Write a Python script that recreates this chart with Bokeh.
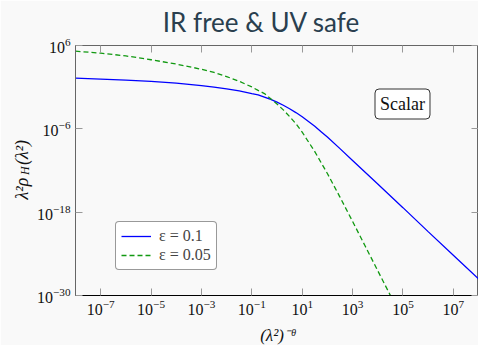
import math
from bokeh.plotting import figure
from bokeh.models import (LogAxis, FixedTicker, Legend, LegendItem, Label, Range1d,
                          CustomJSTickFormatter)
from bokeh.embed import file_html
from bokeh.resources import INLINE

# ---------------- data (log10 values) ----------------
title_text = "IR free & UV safe"

blue_log_x = [-8, -7, -6, -5, -4, -3, -2.5, -2, -1.5, -1, -0.75, -0.5, -0.25, 0, 0.25, 0.5,
              0.75, 1, 1.25, 1.5, 1.75, 2, 2.5, 3, 4, 5, 6, 7, 8]
blue_log_y = [1.30, 1.16, 1.00, 0.82, 0.58, 0.23, 0.01, -0.24, -0.54, -0.93, -1.11, -1.42,
              -1.76, -2.16, -2.61, -3.11, -3.66, -4.27, -4.94, -5.64, -6.41, -7.19, -8.85,
              -10.55, -13.95, -17.35, -20.8, -24.2, -27.6]

green_log_x = [-8, -7, -6, -5, -4, -3, -2.5, -2, -1.5, -1, -0.75, -0.5, -0.25, 0, 0.25, 0.5,
               0.75, 1, 1.5, 2, 2.5, 3, 3.5, 4, 4.5]
green_log_y = [5.18, 4.90, 4.50, 3.95, 3.33, 2.58, 2.12, 1.53, 0.84, 0.03, -0.46, -0.92,
               -1.66, -2.43, -3.27, -4.23, -5.26, -6.48, -9.28, -12.43, -15.83, -19.33,
               -22.88, -26.43, -29.98]

series_labels = ["ε = 0.1", "ε = 0.05"]
x_tick_exponents = [-7, -5, -3, -1, 1, 3, 5, 7]
y_tick_exponents = [-30, -18, -6, 6]
x_limits = (1e-8, 1e8)
y_limits = (1e-30, 1e6)
box_text = "Scalar"
x_label_text = "(λ²)⁻ᶿ"
y_label_main = "λ²ρ\u2002\u2009(λ²)"
y_label_sub = "H"

blue_x = [10 ** v for v in blue_log_x]
blue_y = [10 ** v for v in blue_log_y]
green_x = [10 ** v for v in green_log_x]
green_y = [10 ** v for v in green_log_y]
x_ticks = [10.0 ** e for e in x_tick_exponents]
y_ticks = [10.0 ** e for e in y_tick_exponents]

# ---------------- layout ----------------
W, H = 478, 345
L, R, T, B = 75, 478, 45, 295
BG = "#f9f9f9"
SERIF = "Liberation Serif"

def px2x(px):
    lo, hi = math.log10(x_limits[0]), math.log10(x_limits[1])
    return 10 ** (lo + (px - L) / (R - L) * (hi - lo))

def py2y(py):
    lo, hi = math.log10(y_limits[0]), math.log10(y_limits[1])
    return 10 ** (hi - (py - T) / (B - T) * (hi - lo))

p = figure(width=W, height=H, x_axis_type="log", y_axis_type="log",
           x_range=Range1d(*x_limits), y_range=Range1d(*y_limits),
           output_backend="svg", toolbar_location=None,
           min_border_left=L, min_border_right=0, min_border_top=T, min_border_bottom=H - B)
p.background_fill_color = BG
p.border_fill_color = BG
p.outline_line_color = "#666666"
p.grid.visible = False

def style_axis(ax, ticks, labels=True, line_color="#555555"):
    ax.ticker = FixedTicker(ticks=ticks)
    ax.minor_tick_line_color = None
    ax.major_tick_in = 7
    ax.major_tick_out = 0
    ax.major_tick_line_color = "#999999"
    ax.major_tick_line_width = 1
    ax.axis_line_color = line_color
    ax.axis_line_width = 1
    if labels:
        ax.major_label_text_font = SERIF
        ax.major_label_text_font_size = "16px"
        ax.major_label_text_color = "#111111"
    else:
        ax.formatter = CustomJSTickFormatter(code="return ''")
        ax.major_label_standoff = 0

style_axis(p.xaxis[0], x_ticks, line_color="#000000")
p.xaxis[0].major_label_standoff = 4
style_axis(p.yaxis[0], y_ticks, line_color="#666666")
p.yaxis[0].major_label_standoff = 5

top_ax = LogAxis()
style_axis(top_ax, x_ticks, labels=False, line_color="#666666")
p.add_layout(top_ax, "above")
right_ax = LogAxis()
style_axis(right_ax, y_ticks, labels=False, line_color="#333333")
p.add_layout(right_ax, "right")

# ---------------- curves ----------------
r_blue = p.line(blue_x, blue_y, line_color="#0000ff", line_width=1.3)
r_green = p.line(green_x, green_y, line_color="#119911", line_width=1.3, line_dash="5 3")

legend = Legend(items=[LegendItem(label=series_labels[0], renderers=[r_blue]),
                       LegendItem(label=series_labels[1], renderers=[r_green])],
                location=(40, 25))
legend.label_text_font = SERIF
legend.label_text_font_size = "16px"
legend.glyph_width = 30
legend.glyph_height = 18
legend.label_height = 18
legend.label_standoff = 8
legend.padding = 5
legend.spacing = 1
legend.margin = 0
legend.border_line_color = "#333333"
legend.border_line_width = 1
legend.background_fill_color = "#ffffff"
legend.background_fill_alpha = 1
if "border_radius" in Legend.properties():
    legend.border_radius = 4
p.add_layout(legend)

# ---------------- texts ----------------
box = Label(x=px2x(402), y=py2y(103.5), text=box_text, text_align="center",
            text_baseline="middle", text_font=SERIF, text_font_size="18px",
            text_color="#111111", background_fill_color="#ffffff",
            border_line_color="#333333", border_line_width=1)
if "padding" in Label.properties():
    box.padding = 5
if "border_radius" in Label.properties():
    box.border_radius = 4
p.add_layout(box)

# title (in the top panel)
p.add_layout(Label(x=px2x(261), y=py2y(21), text=title_text, text_align="center",
                   text_baseline="alphabetic", text_font="Lato", text_font_size="26px",
                   text_color="#2a3f4f"), "above")

# x axis label (in the bottom panel)
p.add_layout(Label(x=px2x(277), y=py2y(335), text=x_label_text, text_align="center",
                   text_baseline="alphabetic", text_font=SERIF, text_font_size="17px",
                   text_font_style="italic", text_color="#111111"), "below")

# y axis label: λ²ρ_H(λ²) rotated (in the left panel)
ang = math.pi / 2
y0 = 199
p.add_layout(Label(x=px2x(21), y=py2y(y0), text=y_label_main, angle=ang, text_align="left",
                   text_baseline="alphabetic", text_font=SERIF, text_font_size="18px",
                   text_font_style="italic", text_color="#111111"), "left")
p.add_layout(Label(x=px2x(24.5), y=py2y(y0 - 24.5), text=y_label_sub, angle=ang,
                   text_align="left", text_baseline="alphabetic", text_font=SERIF,
                   text_font_size="12px", text_font_style="italic", text_color="#111111"),
             "left")

open("out.html", "w").write(file_html(p, INLINE))
